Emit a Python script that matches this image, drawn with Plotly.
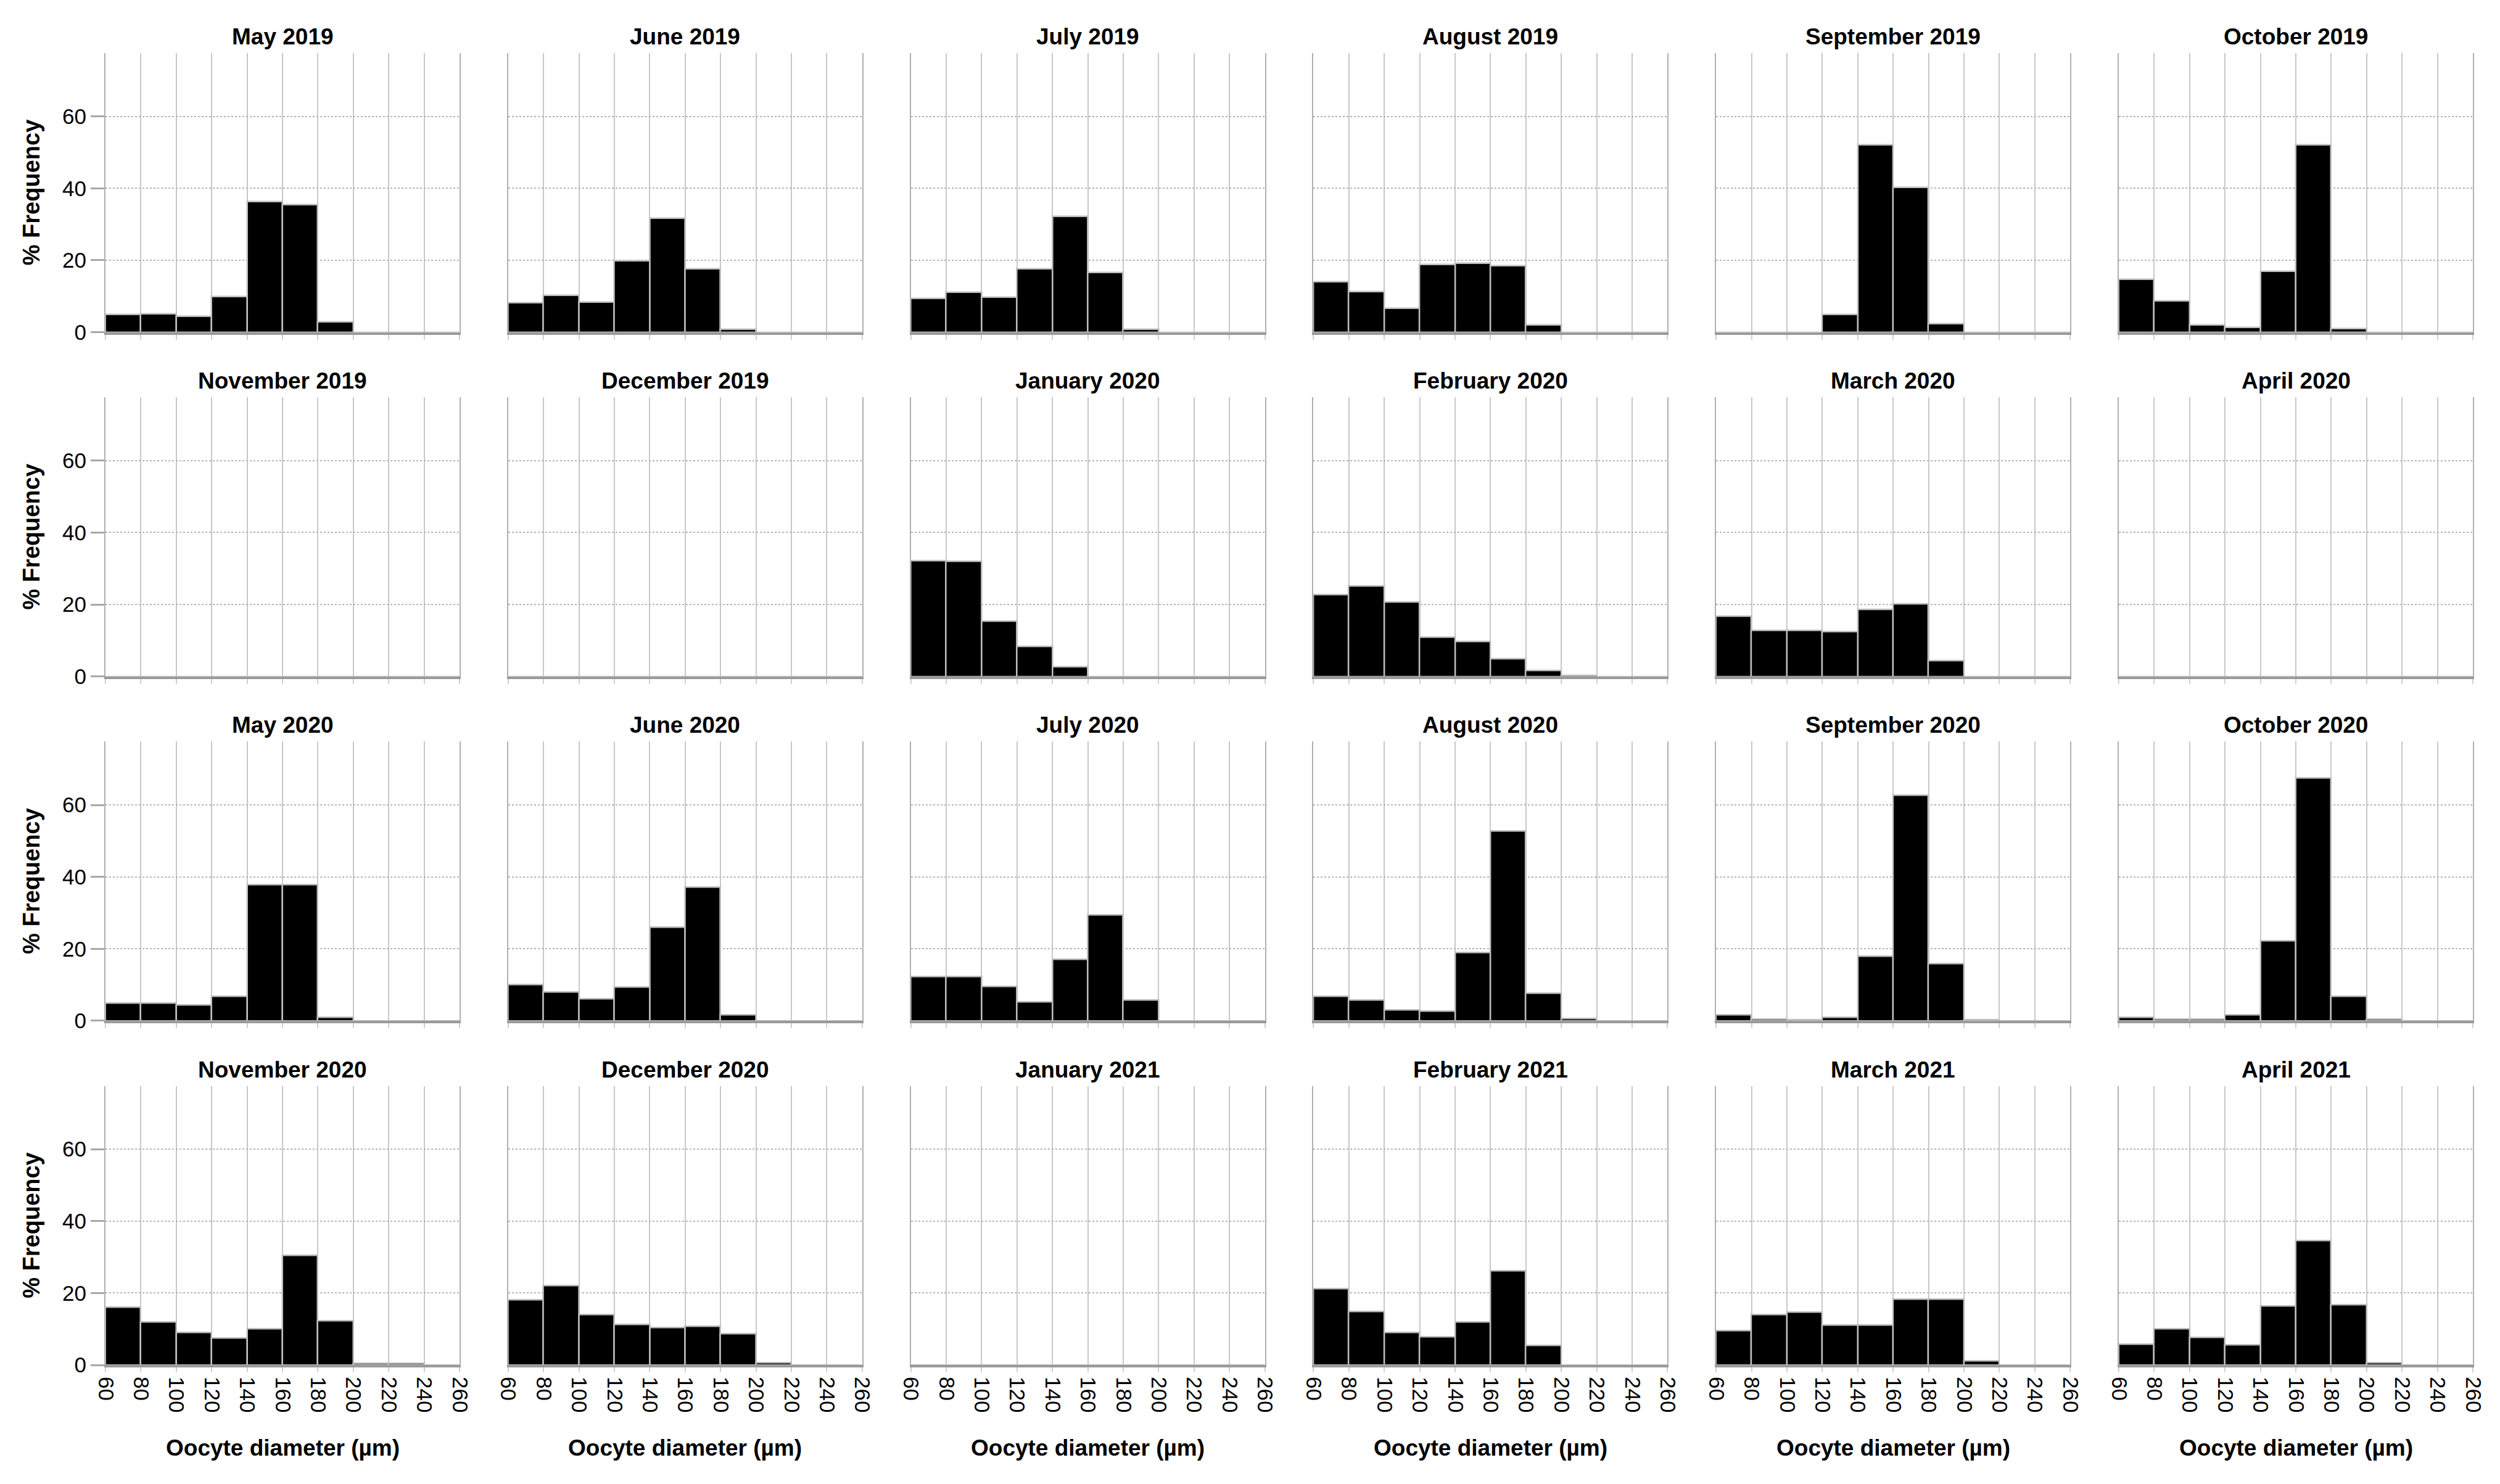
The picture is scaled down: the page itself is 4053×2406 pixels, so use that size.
import plotly.graph_objects as go

# ---- data (percent frequency per 20 µm bin) ----
bin_starts = [60, 80, 100, 120, 140, 160, 180, 200, 220, 240]
x_ticks = [60, 80, 100, 120, 140, 160, 180, 200, 220, 240, 260]

months = ["May 2019", "June 2019", "July 2019", "August 2019", "September 2019", "October 2019",
          "November 2019", "December 2019", "January 2020", "February 2020", "March 2020", "April 2020",
          "May 2020", "June 2020", "July 2020", "August 2020", "September 2020", "October 2020",
          "November 2020", "December 2020", "January 2021", "February 2021", "March 2021", "April 2021"]

may_2019 = [4.9, 5.0, 4.3, 9.9, 36.2, 35.4, 2.9, 0, 0, 0]
jun_2019 = [8.1, 10.2, 8.4, 19.8, 31.6, 17.5, 0.7, 0, 0, 0]
jul_2019 = [9.4, 11.1, 9.7, 17.5, 32.2, 16.6, 0.7, 0, 0, 0]
aug_2019 = [14.0, 11.3, 6.6, 18.8, 19.1, 18.5, 2.0, 0, 0, 0]
sep_2019 = [0, 0, 0, 4.9, 52.1, 40.2, 2.3, 0, 0, 0]
oct_2019 = [14.6, 8.7, 2.0, 1.3, 16.9, 52.0, 1.0, 0, 0, 0]
nov_2019 = [0, 0, 0, 0, 0, 0, 0, 0, 0, 0]
dec_2019 = [0, 0, 0, 0, 0, 0, 0, 0, 0, 0]
jan_2020 = [32.2, 31.9, 15.3, 8.3, 2.7, 0, 0, 0, 0, 0]
feb_2020 = [22.7, 25.1, 20.6, 10.9, 9.7, 4.9, 1.6, 0.3, 0, 0]
mar_2020 = [16.8, 12.8, 12.8, 12.5, 18.6, 20.2, 4.3, 0, 0, 0]
apr_2020 = [0, 0, 0, 0, 0, 0, 0, 0, 0, 0]
may_2020 = [4.9, 4.9, 4.4, 6.8, 37.8, 37.8, 0.9, 0, 0, 0]
jun_2020 = [10.0, 8.0, 6.1, 9.3, 26.0, 37.1, 1.6, 0, 0, 0]
jul_2020 = [12.3, 12.3, 9.5, 5.2, 17.0, 29.4, 5.7, 0, 0, 0]
aug_2020 = [6.8, 5.8, 3.0, 2.7, 18.9, 52.7, 7.6, 0.6, 0, 0]
sep_2020 = [1.7, 0.4, 0.3, 0.9, 17.9, 62.6, 15.8, 0.3, 0, 0]
oct_2020 = [0.9, 0.4, 0.4, 1.6, 22.2, 67.5, 6.8, 0.4, 0, 0]
nov_2020 = [16.1, 11.9, 9.0, 7.4, 10.0, 30.4, 12.3, 0.5, 0.5, 0]
dec_2020 = [18.1, 22.1, 14.0, 11.3, 10.4, 10.7, 8.6, 0.6, 0, 0]
jan_2021 = [0, 0, 0, 0, 0, 0, 0, 0, 0, 0]
feb_2021 = [21.1, 14.8, 9.0, 7.8, 12.0, 26.1, 5.4, 0, 0, 0]
mar_2021 = [9.6, 13.9, 14.7, 11.1, 11.1, 18.3, 18.3, 1.1, 0, 0]
apr_2021 = [5.7, 10.0, 7.6, 5.6, 16.3, 34.5, 16.8, 0.6, 0, 0]

series = [may_2019, jun_2019, jul_2019, aug_2019, sep_2019, oct_2019,
          nov_2019, dec_2019, jan_2020, feb_2020, mar_2020, apr_2020,
          may_2020, jun_2020, jul_2020, aug_2020, sep_2020, oct_2020,
          nov_2020, dec_2020, jan_2021, feb_2021, mar_2021, apr_2021]

# ---- layout geometry (pixels, page coordinates; page body has an 8px margin) ----
W, H = 4053, 2406
OFF = 8
ncols, nrows = 6, 4
col_left0, col_step, col_w = 171 - OFF, 652.8, 574
row_top0, row_step, row_h = 86 - OFF, 558.2, 452.5
ylab_x = 51 - OFF
xlab_y = 2347 - OFF

FONT = "Liberation Sans, Arial, sans-serif"
TITLE_SIZE = 37
YLAB_SIZE = 38
TICK_SIZE = 35

fig = go.Figure()
annotations = []
layout_axes = {}

centers = [b + 10 for b in bin_starts]

for i, (title, vals) in enumerate(zip(months, series)):
    r, c = divmod(i, ncols)
    n = i + 1
    xname = "x" if n == 1 else f"x{n}"
    yname = "y" if n == 1 else f"y{n}"
    x0 = col_left0 + c * col_step
    x1 = x0 + col_w
    top = row_top0 + r * row_step
    bot = top + row_h
    xd = [x0 / W, x1 / W]
    yd = [1 - bot / H, 1 - top / H]

    fig.add_trace(go.Bar(
        x=centers, y=vals, width=20, xaxis=xname, yaxis=yname,
        marker=dict(color="black", line=dict(color="#bdbdbd", width=2.5)),
        showlegend=False, hoverinfo="skip"))

    layout_axes["xaxis" if n == 1 else f"xaxis{n}"] = dict(
        domain=xd, anchor=yname, range=[60, 260], tickmode="array", tickvals=x_ticks,
        ticktext=[str(t) for t in x_ticks],
        showticklabels=(r == nrows - 1), tickangle=90,
        ticks="outside", ticklen=8, tickwidth=2, tickcolor="#d0d0d0",
        showgrid=True, gridcolor="#c8c8c8", gridwidth=2,
        showline=True, linecolor="#9a9a9a", linewidth=4,
        zeroline=False, fixedrange=True, automargin=False,
        tickfont=dict(family=FONT, size=TICK_SIZE, color="black"))
    layout_axes["yaxis" if n == 1 else f"yaxis{n}"] = dict(
        domain=yd, anchor=xname, range=[0, 77.6], tickmode="array", tickvals=[0, 20, 40, 60],
        showticklabels=(c == 0),
        ticks="outside" if c == 0 else "", ticklen=22, tickwidth=3, tickcolor="#a8a8a8",
        showgrid=True, gridcolor="#b5b5b5", gridwidth=2, griddash="dot",
        showline=True, linecolor="#b0b0b0", linewidth=2, mirror=True,
        zeroline=False, fixedrange=True, automargin=False,
        tickfont=dict(family=FONT, size=TICK_SIZE, color="black"))

    annotations.append(dict(
        text=f"<b>{title}</b>", x=(xd[0] + xd[1]) / 2, y=yd[1], xref="paper", yref="paper",
        xanchor="center", yanchor="bottom", yshift=4, showarrow=False,
        font=dict(family=FONT, size=TITLE_SIZE, color="black")))

    if c == 0:
        annotations.append(dict(
            text="<b>% Frequency</b>", x=ylab_x / W, y=(yd[0] + yd[1]) / 2, xref="paper", yref="paper",
            xanchor="center", yanchor="middle", textangle=-90, showarrow=False,
            font=dict(family=FONT, size=YLAB_SIZE, color="black")))
    if r == nrows - 1:
        annotations.append(dict(
            text="<b>Oocyte diameter (µm)</b>", x=(xd[0] + xd[1]) / 2, y=1 - xlab_y / H,
            xref="paper", yref="paper", xanchor="center", yanchor="middle", showarrow=False,
            font=dict(family=FONT, size=TITLE_SIZE, color="black")))

fig.update_layout(
    width=W, height=H, margin=dict(l=0, r=0, t=0, b=0, pad=0, autoexpand=False),
    paper_bgcolor="white", plot_bgcolor="white",
    bargap=0, annotations=annotations, **layout_axes)

fig.write_html("out.html", config={"displayModeBar": False})
